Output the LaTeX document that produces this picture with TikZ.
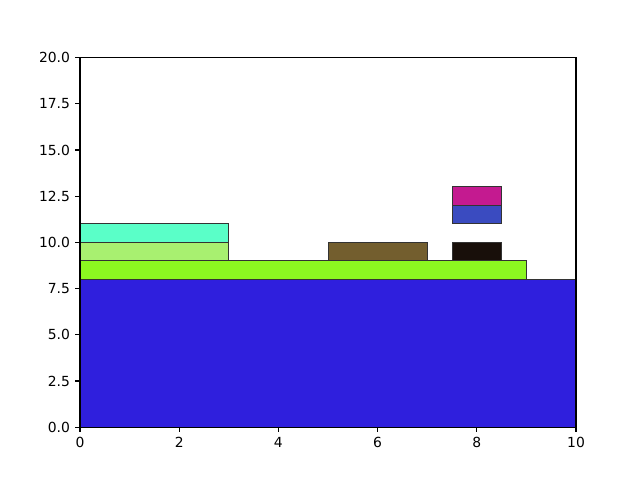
\documentclass[tikz,border=0pt]{standalone}
\usepackage{fontspec}
\setmainfont{DejaVu Sans}
\definecolor{cA}{HTML}{2F1FDD}
\definecolor{cB}{HTML}{8CF820}
\definecolor{cC}{HTML}{A8F070}
\definecolor{cD}{HTML}{5AFFC8}
\definecolor{cE}{HTML}{735E2E}
\definecolor{cF}{HTML}{180F0A}
\definecolor{cG}{HTML}{3A4BC0}
\definecolor{cH}{HTML}{C41A90}
\tikzset{
  bar/.style={draw=black!80, line width=0.7pt},
  spine/.style={line width=0.8pt, line cap=rect},
  tick/.style={line width=0.8pt},
  ticklab/.style={font=\fontsize{10}{12}\selectfont, inner sep=0pt}
}
\begin{document}
\begin{tikzpicture}[x=35.712pt, y=13.3056pt]
\useasboundingbox (-57.6pt,-38.016pt) rectangle (403.2pt,307.584pt);
\fill[white] (-57.6pt,-38.016pt) rectangle (403.2pt,307.584pt);
% patches
\filldraw[bar, fill=cA] (0,0) rectangle (10,8);
\filldraw[bar, fill=cB] (0,8) rectangle (9,9);
\filldraw[bar, fill=cC] (0,9) rectangle (3,10);
\filldraw[bar, fill=cD] (0,10) rectangle (3,11);
\filldraw[bar, fill=cE] (5,9) rectangle (7,10);
\filldraw[bar, fill=cF] (7.5,9) rectangle (8.5,10);
\filldraw[bar, fill=cG] (7.5,11) rectangle (8.5,12);
\filldraw[bar, fill=cH] (7.5,12) rectangle (8.5,13);
% spines
\draw[spine] (0,0) rectangle (10,20);
% x ticks
\foreach \v/\n in {0/x0,2/x2,4/x4,6/x6,8/x8,10/x10}{
  \coordinate (\n) at (\v,0);
  \draw[tick] (\n) -- ++(0,-3.5pt);
  \node[ticklab, anchor=north] (l\n) at ([yshift=-7pt]\n) {\v};
}
% y ticks
\foreach \v/\t/\n in {0/0.0/y0,2.5/2.5/y1,5/5.0/y2,7.5/7.5/y3,10/10.0/y4,12.5/12.5/y5,15/15.0/y6,17.5/17.5/y7,20/20.0/y8}{
  \coordinate (\n) at (0,\v);
  \draw[tick] (\n) -- ++(-3.5pt,0);
  \node[ticklab, anchor=east] (l\n) at ([xshift=-7pt]\n) {\t};
}
\end{tikzpicture}
\end{document}
